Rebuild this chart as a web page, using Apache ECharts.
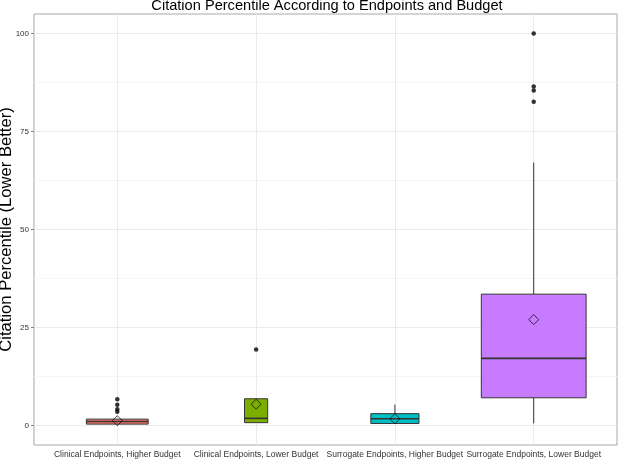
<!DOCTYPE html>
<html>
<head>
<meta charset="utf-8">
<title>Citation Percentile</title>
<script src="https://cdn.jsdelivr.net/npm/echarts@6/dist/echarts.min.js"></script>
<style>
  html, body { margin: 0; padding: 0; background: #fff; }
  #main { width: 622px; height: 460px; }
</style>
</head>
<body>
<div id="main"></div>
<script type="text/javascript">

// categories and box statistics
var categories = ['Clinical Endpoints, Higher Budget', 'Clinical Endpoints, Lower Budget',
                  'Surrogate Endpoints, Higher Budget', 'Surrogate Endpoints, Lower Budget'];
var whiskerLow  = [0.3, 0.7, 0.4, 0.5];
var q1          = [0.33, 0.7, 0.5, 7.05];
var medians     = [1.0, 1.8, 1.7, 17.1];
var q3          = [1.6, 6.8, 3.0, 33.5];
var whiskerHigh = [1.6, 6.8, 5.3, 67.1];
var means       = [1.2, 5.4, 1.7, 27.0];
// box widths (varwidth), in category units
var boxWidths   = [0.445, 0.167, 0.347, 0.755];

var outlierCat = [1, 1, 1, 1, 2, 4, 4, 4, 4];
var outlierVal = [6.7, 5.3, 4.1, 3.5, 19.35, 100, 86.5, 85.5, 82.6];

var yBreaks = [0, 25, 50, 75, 100];
var yMinorBreaks = [12.5, 37.5, 62.5, 87.5];

var boxColors = ['#F8766D', '#7CAE00', '#00BFC4', '#C77CFF'];

var boxData = categories.map(function (c, i) {
  return [i + 1, whiskerLow[i], q1[i], medians[i], q3[i], whiskerHigh[i], boxWidths[i]];
});
var meanData = means.map(function (m, i) { return [i + 1, m]; });
var outlierData = outlierVal.map(function (v, i) { return [outlierCat[i], v]; });

function renderBox(params, api) {
  var x = api.value(0);
  var w = api.size([api.value(6), 0])[0];
  var lo = api.coord([x, api.value(1)]);
  var b1 = api.coord([x, api.value(2)]);
  var md = api.coord([x, api.value(3)]);
  var b3 = api.coord([x, api.value(4)]);
  var hi = api.coord([x, api.value(5)]);
  var stroke = '#333333';
  return {
    type: 'group',
    children: [
      { type: 'line', shape: { x1: lo[0], y1: lo[1], x2: b1[0], y2: b1[1] },
        style: { stroke: stroke, lineWidth: 1 } },
      { type: 'line', shape: { x1: b3[0], y1: b3[1], x2: hi[0], y2: hi[1] },
        style: { stroke: stroke, lineWidth: 1 } },
      { type: 'rect', shape: { x: b3[0] - w / 2, y: b3[1], width: w, height: b1[1] - b3[1] },
        style: { fill: boxColors[params.dataIndex], stroke: stroke, lineWidth: 1 } },
      { type: 'line', shape: { x1: md[0] - w / 2, y1: md[1], x2: md[0] + w / 2, y2: md[1] },
        style: { stroke: stroke, lineWidth: 1.6 } }
    ]
  };
}

var gridLines = [];
yMinorBreaks.forEach(function (v) {
  gridLines.push({ yAxis: v, lineStyle: { color: '#f5f5f5', width: 1, type: 'solid' } });
});
yBreaks.forEach(function (v) {
  gridLines.push({ yAxis: v, lineStyle: { color: '#ebebeb', width: 1, type: 'solid' } });
});
categories.forEach(function (c, i) {
  gridLines.push({ xAxis: i + 1, lineStyle: { color: '#ebebeb', width: 1, type: 'solid' } });
});

var myChart = echarts.init(document.getElementById('main'));

myChart.setOption({
  animation: false,
  textStyle: { fontFamily: '"Liberation Sans", Arial, Helvetica, sans-serif' },
  title: {
    text: 'Citation Percentile According to Endpoints and Budget',
    left: 327,
    top: -2,
    padding: 0,
    textAlign: 'center',
    textStyle: { fontSize: 14.6, fontWeight: 'normal', color: '#000' }
  },
  grid: {
    left: 34, right: 5, top: 14, bottom: 15,
    outerBoundsMode: 'none',
    containLabel: false,
    show: true,
    borderColor: '#a8a8a8',
    borderWidth: 1,
    backgroundColor: '#fff'
  },
  xAxis: {
    type: 'value',
    min: 0.4,
    max: 4.6,
    splitLine: { show: false },
    axisLine: { show: false },
    axisTick: { show: true, length: 3, customValues: [1, 2, 3, 4],
                lineStyle: { color: '#7f7f7f' } },
    axisLabel: {
      customValues: [1, 2, 3, 4],
      margin: 5,
      fontSize: 8.5,
      color: '#333',
      hideOverlap: false,
      showMaxLabel: true,
      showMinLabel: true,
      formatter: function (v) { return categories[Math.round(v) - 1]; }
    }
  },
  yAxis: {
    type: 'value',
    min: -5,
    max: 105,
    name: 'Citation Percentile (Lower Better)',
    nameLocation: 'middle',
    nameGap: 19,
    nameMoveOverlap: false,
    nameTextStyle: { fontSize: 16.6, color: '#000' },
    splitLine: { show: false },
    axisLine: { show: false },
    axisTick: { show: true, length: 3, customValues: yBreaks,
                lineStyle: { color: '#7f7f7f' } },
    axisLabel: { customValues: yBreaks, margin: 5, fontSize: 8, color: '#333' }
  },
  series: [
    {
      name: 'grid',
      type: 'line',
      data: [],
      silent: true,
      markLine: {
        silent: true,
        symbol: 'none',
        z: 1,
        label: { show: false },
        data: gridLines
      }
    },
    {
      name: 'boxes',
      type: 'custom',
      renderItem: renderBox,
      data: boxData,
      encode: { x: 0, y: [1, 2, 3, 4, 5] },
      z: 3
    },
    {
      name: 'outliers',
      type: 'scatter',
      data: outlierData,
      symbol: 'circle',
      symbolSize: 4.5,
      itemStyle: { color: '#000' },
      z: 4
    },
    {
      name: 'mean',
      type: 'scatter',
      data: meanData,
      symbol: 'diamond',
      symbolSize: 10,
      itemStyle: { color: 'rgba(0,0,0,0)', borderColor: '#000', borderWidth: 0.9 },
      z: 5
    }
  ]
});
</script>
</body>
</html>
